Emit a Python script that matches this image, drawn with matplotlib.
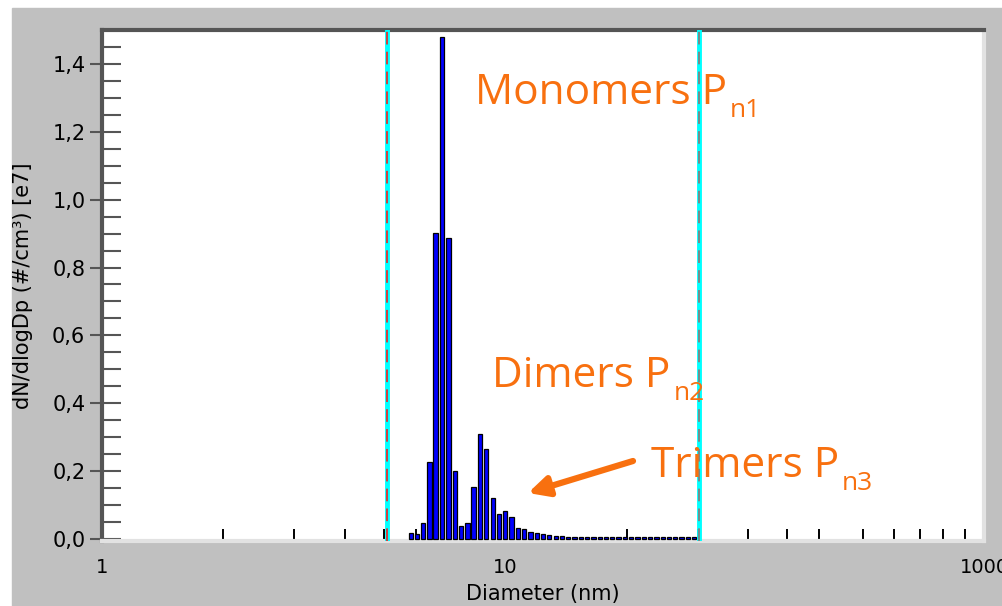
import numpy as np
import matplotlib
matplotlib.use('Agg')
import matplotlib.pyplot as plt
from matplotlib.patches import Rectangle
from matplotlib.ticker import FixedLocator, FixedFormatter, NullFormatter

# SMPS channel midpoints (nm) and dN/dlogDp in units of 1e7 #/cm3
diameters = [5.83, 6.04, 6.26, 6.49, 6.72, 6.98, 7.23, 7.50, 7.77, 8.06,
             8.35, 8.66, 8.98, 9.31, 9.65, 10.00, 10.37, 10.75, 11.14, 11.55,
             11.97, 12.41, 12.86, 13.34, 13.82, 14.33, 14.86, 15.40, 15.96, 16.55,
             17.15, 17.78, 18.43, 19.11, 19.81, 20.54, 21.29, 22.07, 22.88, 23.71,
             24.58, 25.48, 26.42, 27.38, 28.39, 29.43]
dndlogdp = [0.017, 0.016, 0.047, 0.227, 0.903, 1.478, 0.888, 0.200, 0.038, 0.047,
            0.153, 0.310, 0.265, 0.121, 0.074, 0.083, 0.065, 0.032, 0.030, 0.021,
            0.018, 0.015, 0.012, 0.010, 0.008, 0.007, 0.007, 0.006, 0.006, 0.006,
            0.006, 0.006, 0.006, 0.006, 0.006, 0.006, 0.006, 0.006, 0.006, 0.006,
            0.006, 0.006, 0.006, 0.006, 0.006, 0.006]

cursors = [5.08, 30.3]
xminor = [2, 3, 4, 5, 6, 20, 30, 40, 50, 60, 77, 92, 107, 122, 138]
xmajor = [1, 10, 154]
xmajor_labels = ['1', '10', '1000']
yticks = [0.0, 0.2, 0.4, 0.6, 0.8, 1.0, 1.2, 1.4]

W, H = 1002, 606
orange = '#F8700F'
fig = plt.figure(figsize=(W/100, H/100), dpi=100)
fig.patch.set_facecolor('white')
fig.patches.append(Rectangle((12/W, 0), 1, (H-8)/H, transform=fig.transFigure,
                             color='#C0C0C0', zorder=-5))

# zero line sits at y=539 px, bevel below it
ax = fig.add_axes([102/W, (H-541)/H, (984-102)/W, (541-30)/H])
ax.set_facecolor('white')
ax.set_xscale('log')
ax.set_xlim(1, 154)
ax.set_ylim(-0.006, 1.5)

d = np.array(diameters)
half = 10**(0.34/64)
ax.bar(d/half, dndlogdp, width=d*half - d/half, align='edge',
       color='#0000FF', edgecolor='black', linewidth=0.9, zorder=3)

for c, dash in zip(cursors, ['#E03030', '#808080']):
    ax.axvline(c, color='#00FFFF', lw=3.5, zorder=4)
    ax.axvline(c, color=dash, lw=1.3, ls=(0, (7, 4)), zorder=5)

# spines, bevel look
for s in ['left', 'top']:
    ax.spines[s].set_color('#555555')
    ax.spines[s].set_linewidth(3)
for s in ['right', 'bottom']:
    ax.spines[s].set_color('#E2E2E2')
    ax.spines[s].set_linewidth(3)

ax.xaxis.set_major_locator(FixedLocator(xmajor))
ax.xaxis.set_major_formatter(FixedFormatter(xmajor_labels))
ax.xaxis.set_minor_locator(FixedLocator(xminor))
ax.xaxis.set_minor_formatter(NullFormatter())
ax.tick_params(axis='x', which='both', direction='in', length=9, width=1.4,
               color='black', pad=12, labelsize=14)
ax.tick_params(axis='x', which='major', length=0)

ax.set_yticks(yticks)
ax.set_yticklabels([('%.1f' % v).replace('.', ',') for v in yticks])
ax.yaxis.set_minor_locator(FixedLocator(np.arange(0, 1.51, 0.05)))
ax.yaxis.remove_overlapping_locs = False
ax.tick_params(axis='y', which='major', direction='out', length=9, width=1.5,
               color='#555555', labelsize=15, pad=3)
ax.tick_params(axis='y', which='minor', direction='in', length=14, width=1.5,
               color='#555555')

ax.set_xlabel('Diameter (nm)', fontsize=15)
ax.set_ylabel('dN/dlogDp (#/cm³) [e7]', fontsize=15)
ax.xaxis.set_label_coords(0.5, -0.085)
ax.yaxis.set_label_coords(-0.078, 0.5)

# orange annotations
labels = [('Monomers P', 'n1', 475, 104), ('Dimers P', 'n2', 492, 387),
          ('Trimers P', 'n3', 651, 477)]
fig.canvas.draw()
rend = fig.canvas.get_renderer()
for main, sub, px, py in labels:
    t = fig.text(px/W, 1 - py/H, main, fontsize=30.5, color=orange,
                 family='Open Sans', va='baseline', ha='left')
    bb = t.get_window_extent(renderer=rend)
    fig.text((bb.x1 + 3)/W, 1 - (py + 13)/H, sub, fontsize=19, color=orange,
             family='Open Sans', va='baseline', ha='left')

ax.annotate('', xy=(528/W, 1 - 493/H), xycoords='figure fraction',
            xytext=(633/W, 1 - 461/H), textcoords='figure fraction',
            arrowprops=dict(arrowstyle='-|>', color=orange, lw=4.5,
                            mutation_scale=30, shrinkA=0, shrinkB=0))

fig.savefig('out.png', dpi=100)
